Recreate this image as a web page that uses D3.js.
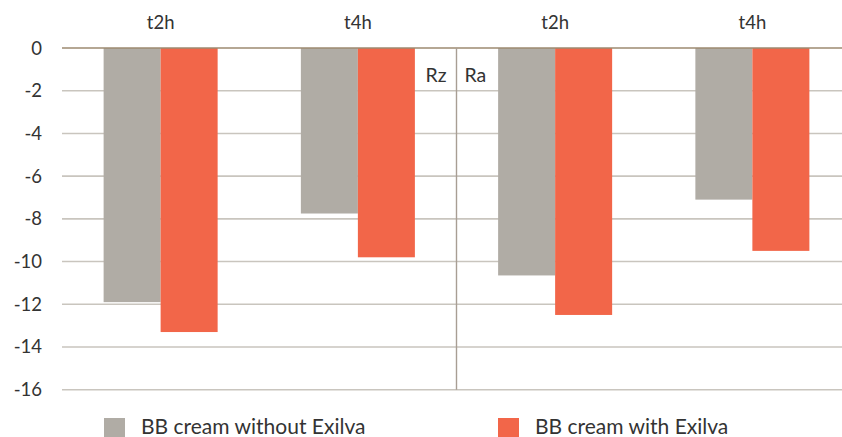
<!DOCTYPE html>
<html><head><meta charset="utf-8">
<script src="https://cdn.jsdelivr.net/npm/d3@7"></script>
<style>body{margin:0;background:#fff}svg{display:block}text{font-family:Lato,"Open Sans",sans-serif;fill:#333}</style>
</head><body><svg id="c" width="842" height="437"></svg>
<script>
const categories = ["t2h","t4h","t2h","t4h"];
const seriesNames = ["BB cream without Exilva","BB cream with Exilva"];
const without = [-11.9,-7.75,-10.65,-7.1];
const withEx = [-13.3,-9.8,-12.5,-9.5];
const yTicks = [0,-2,-4,-6,-8,-10,-12,-14,-16];
const groupLabels = ["Rz","Ra"];
const colors = ["#b0aca5","#f26649"];

const svg = d3.select("#c");
const x = d3.scaleBand().domain(d3.range(categories.length)).range([62,851]).paddingInner(0).paddingOuter(0);
const y = d3.scaleLinear().domain([-16,0]).range([389.7,48]);
const inner = d3.scaleBand().domain([0,1]).range([0,x.bandwidth()]).paddingInner(0).paddingOuter(0.73);

// grid
svg.append("g").selectAll("line").data(yTicks.filter(d=>d!==0)).join("line")
  .attr("x1",62).attr("x2",842).attr("y1",d=>y(d)).attr("y2",d=>y(d))
  .attr("stroke","#c9c5be").attr("stroke-width",1.6);

// bars
const series=[without,withEx];
series.forEach((vals,si)=>{
  svg.append("g").selectAll("rect").data(vals).join("rect")
    .attr("x",(d,i)=>x(i)+inner(si)).attr("width",inner.bandwidth())
    .attr("y",y(0)).attr("height",d=>y(d)-y(0)).attr("fill",colors[si]);
});

// zero line
svg.append("line").attr("x1",62).attr("x2",842).attr("y1",y(0)).attr("y2",y(0))
  .attr("stroke","#9c8a70").attr("stroke-width",1.5);
// divider
const xm = x(2);
svg.append("line").attr("x1",xm).attr("x2",xm).attr("y1",y(0)).attr("y2",y(-16))
  .attr("stroke","#a89e94").attr("stroke-width",1.4);

// y tick labels
svg.append("g").selectAll("text").data(yTicks).join("text")
  .attr("x",42).attr("y",d=>y(d)+6.5).attr("text-anchor","end").attr("font-size",18.5).text(d=>d);

// category labels
svg.append("g").selectAll("text").data(categories).join("text")
  .attr("x",(d,i)=>x(i)+x.bandwidth()/2).attr("y",29).attr("text-anchor","middle").attr("font-size",18.5).text(d=>d);

// group labels
svg.append("text").attr("x",xm-10).attr("y",82).attr("text-anchor","end").attr("font-size",19.5).text(groupLabels[0]);
svg.append("text").attr("x",xm+8).attr("y",82).attr("text-anchor","start").attr("font-size",19.5).text(groupLabels[1]);

// legend
const legX=[104,498];
seriesNames.forEach((n,i)=>{
  svg.append("rect").attr("x",legX[i]).attr("y",418).attr("width",21).attr("height",21).attr("fill",colors[i]);
  svg.append("text").attr("x",legX[i]+37).attr("y",433.5).attr("font-size",21).text(n);
});
</script></body></html>
